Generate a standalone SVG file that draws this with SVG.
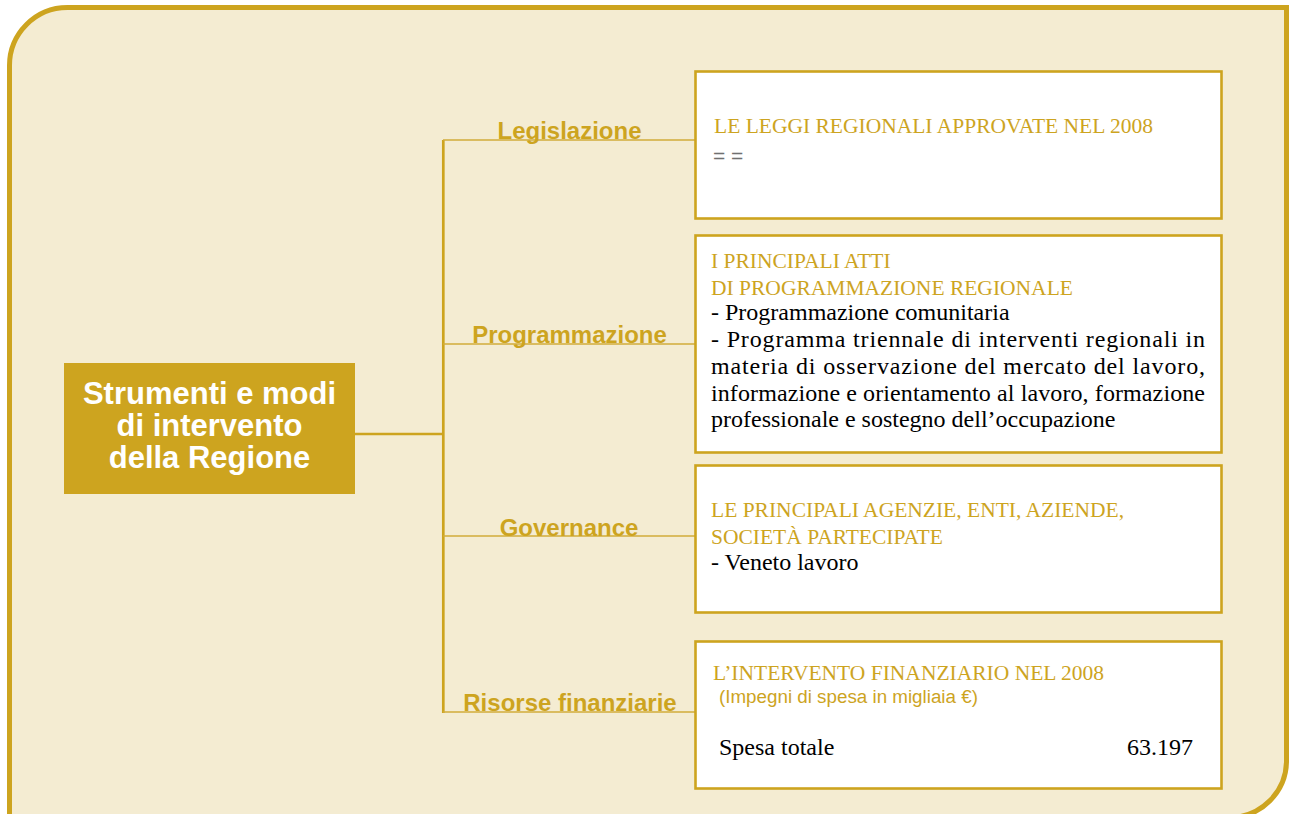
<svg xmlns="http://www.w3.org/2000/svg" width="1289" height="814" viewBox="0 0 1289 814">
<style>
.frame{fill:#F4ECD2;stroke:#CDA41F;stroke-width:5}
.box{fill:#FFFFFF;stroke:#CDA41F;stroke-width:2.6}
.trunk{stroke:#CDA41F;stroke-width:2.7;fill:none}
.branch{stroke:#D2AD3A;stroke-width:1.3;fill:none}
.lbl{font-family:"Liberation Sans",Arial,sans-serif;font-weight:bold;font-size:24px;fill:#CDA41F;text-anchor:middle}
.ctr{font-family:"Liberation Sans",Arial,sans-serif;font-weight:bold;font-size:31px;fill:#FFFFFF;text-anchor:middle}
.hd{font-family:"Liberation Serif","Times New Roman",serif;font-size:21.5px;fill:#CDA41F}
.bd{font-family:"Liberation Serif","Times New Roman",serif;font-size:24px;fill:#000000}
.sm{font-family:"Liberation Sans",Arial,sans-serif;font-size:18.8px;fill:#CDA41F}
.eq{font-family:"Liberation Sans",Arial,sans-serif;font-size:21px;fill:#707070}
</style>
<path class="frame" d="M9.5,66 A58,58 0 0 1 67.5,7.5 L1286.5,7.5 L1286.5,760 A57,57 0 0 1 1229.5,817.5 L9.5,817.5 Z"/>
<g id="connectors">
<line class="trunk" x1="355" y1="434" x2="443.3" y2="434"/>
<line class="trunk" x1="443.3" y1="140" x2="443.3" y2="713"/>
<line class="branch" x1="443" y1="140" x2="696" y2="140"/>
<line class="branch" x1="443" y1="344" x2="696" y2="344"/>
<line class="branch" x1="443" y1="536" x2="696" y2="536"/>
<line class="branch" x1="443" y1="712" x2="696" y2="712"/>
</g>
<g id="center">
<rect x="64" y="363" width="291" height="131" fill="#CDA41F"/>
<text class="ctr" x="209.5" y="404">Strumenti e modi</text>
<text class="ctr" x="209.5" y="436">di intervento</text>
<text class="ctr" x="209.5" y="468">della Regione</text>
</g>
<g id="label-legislazione"><text class="lbl" x="569.5" y="139">Legislazione</text></g>
<g id="label-programmazione"><text class="lbl" x="569.5" y="343">Programmazione</text></g>
<g id="label-governance"><text class="lbl" x="569" y="536">Governance</text></g>
<g id="label-risorse"><text class="lbl" x="570" y="711">Risorse finanziarie</text></g>
<g id="box-legislazione">
<rect class="box" x="695.5" y="71.5" width="526" height="147"/>
<text class="hd" x="714" y="133">LE LEGGI REGIONALI APPROVATE NEL 2008</text>
<text class="eq" x="713" y="163">= =</text>
</g>
<g id="box-programmazione">
<rect class="box" x="695.5" y="235.5" width="526" height="217"/>
<text class="hd" x="711" y="268">I PRINCIPALI ATTI</text>
<text class="hd" x="711" y="295">DI PROGRAMMAZIONE REGIONALE</text>
<text class="bd" x="711" y="320">- Programmazione comunitaria</text>
<text class="bd" x="711" y="347" textLength="494" lengthAdjust="spacing">- Programma triennale di interventi regionali in</text>
<text class="bd" x="711" y="374" textLength="494" lengthAdjust="spacing">materia di osservazione del mercato del lavoro,</text>
<text class="bd" x="711" y="401" textLength="494" lengthAdjust="spacing">informazione e orientamento al lavoro, formazione</text>
<text class="bd" x="711" y="427">professionale e sostegno dell’occupazione</text>
</g>
<g id="box-governance">
<rect class="box" x="695.5" y="465.5" width="526" height="147"/>
<text class="hd" x="711" y="517">LE PRINCIPALI AGENZIE, ENTI, AZIENDE,</text>
<text class="hd" x="711" y="544">SOCIETÀ PARTECIPATE</text>
<text class="bd" x="711" y="570">- Veneto lavoro</text>
</g>
<g id="box-risorse">
<rect class="box" x="695.5" y="641.5" width="526" height="147"/>
<text class="hd" x="713" y="680">L’INTERVENTO FINANZIARIO NEL 2008</text>
<text class="sm" x="719" y="703">(Impegni di spesa in migliaia €)</text>
<text class="bd" x="719" y="755">Spesa totale</text>
<text class="bd" x="1193" y="755" text-anchor="end">63.197</text>
</g>
</svg>
